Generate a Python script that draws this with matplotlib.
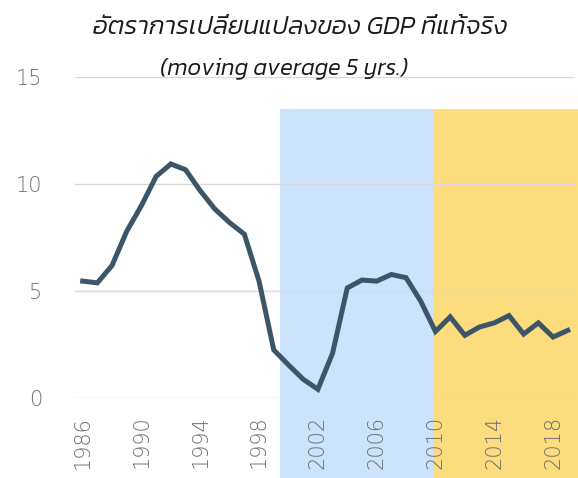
import matplotlib
matplotlib.use("Agg")
import matplotlib.pyplot as plt

years = list(range(1986, 2020))
growth = [5.47, 5.39, 6.2, 7.8, 9.0, 10.36, 10.94, 10.67, 9.69, 8.83, 8.2, 7.66,
          5.47, 2.26, 1.56, 0.89, 0.42, 2.1, 5.15, 5.52, 5.47, 5.78, 5.63, 4.53,
          3.12, 3.80, 2.94, 3.33, 3.52, 3.86, 3.0, 3.52, 2.86, 3.17]
xtick_years = list(range(1986, 2020, 4))
yticks = [0, 5, 10, 15]
blue_span = (1999.43, 2009.85)
yellow_span = (2009.85, 2019.7)
title_line1 = "อัตราการเปลี่ยนแปลงของ GDP ที่แท้จริง"
title_line2 = "(moving average 5 yrs.)"

fig = plt.figure(figsize=(5.78, 4.78), dpi=100)
W, H = 578, 478
ax = fig.add_axes([75.3 / W, (H - 398.3) / H, (575.1 - 75.3) / W, (398.3 - 77) / H])
ax.set_xlim(1985.5, 2019.5)
ax.set_ylim(0, 15)

ax.axvspan(*blue_span, ymin=-0.25, ymax=13.5 / 15, color="#cbe4fb", lw=0, clip_on=False, zorder=0)
ax.axvspan(*yellow_span, ymin=-0.25, ymax=13.5 / 15, color="#fddc7e", lw=0, clip_on=False, zorder=0)

for v in yticks:
    ax.axhline(v, color="#d9d9d9", lw=1.0, zorder=1)

ax.plot(years, growth, color="#3b5668", lw=3.6, solid_joinstyle="miter", zorder=3)

for s in ax.spines.values():
    s.set_visible(False)
ax.set_yticks(yticks)
ax.set_xticks(xtick_years)
ax.tick_params(length=0, labelsize=15, labelcolor="#6e6e6e")
ax.tick_params(axis="y", pad=24)
ax.tick_params(axis="x", pad=12.5)
for lab in ax.get_xticklabels() + ax.get_yticklabels():
    lab.set_fontweight("light")
for lab in ax.get_xticklabels():
    lab.set_rotation(90)

title_font = ["Kanit", "DejaVu Sans"]
fig.text(300 / W, 1 - 28 / H, title_line1, ha="center", va="center", fontsize=18.6,
         style="italic", color="#1a1a1a", family=title_font, fontweight=300)
fig.text(284 / W, 1 - 68.5 / H, title_line2, ha="center", va="center", fontsize=17,
         style="italic", color="#1a1a1a", family=title_font, fontweight=300)

fig.savefig("out.png", dpi=100)
